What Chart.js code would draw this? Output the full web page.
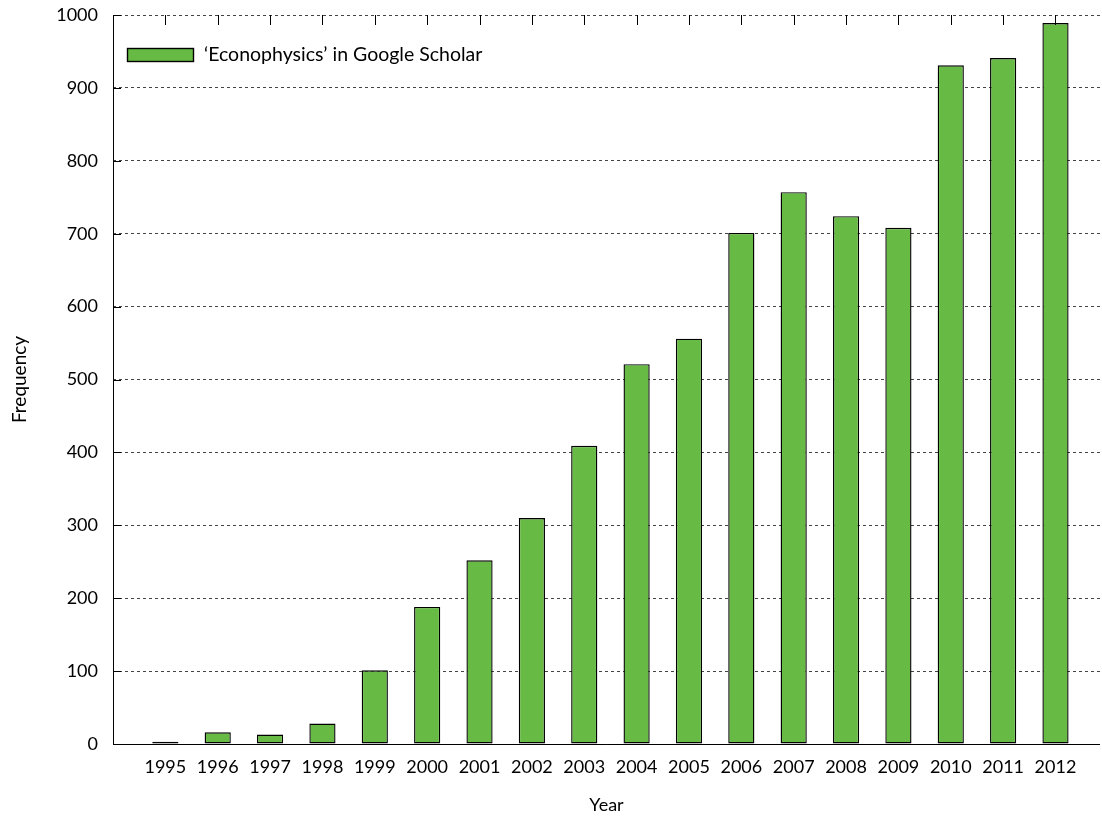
<!DOCTYPE html>
<html>
<head>
<meta charset="utf-8">
<script src="https://cdn.jsdelivr.net/npm/chart.js@4"></script>
<style>
  html, body { margin: 0; padding: 0; background: #fff; }
  #wrap { width: 1102px; height: 816px; }
</style>
</head>
<body>
<div id="wrap"><canvas id="freqChart" width="1102" height="816"></canvas></div>
<script>
// Data
const years = [1995, 1996, 1997, 1998, 1999, 2000, 2001, 2002, 2003, 2004,
               2005, 2006, 2007, 2008, 2009, 2010, 2011, 2012];
const counts = [3, 16, 13, 28, 101, 188, 252, 310, 409, 521,
                556, 701, 757, 724, 708, 931, 941, 989];
const yTicks = [0, 100, 200, 300, 400, 500, 600, 700, 800, 900, 1000];
const seriesName = "\u2018Econophysics\u2019 in Google Scholar";

const barGreen = '#67bb44';
const fontFamily = 'Lato, "Open Sans", sans-serif';

/* inward tick marks on top and left, solid axes, plus the legend inside the plot */
const extras = {
  id: 'extras',
  afterDraw(chart) {
    const c = chart.ctx;
    const area = chart.chartArea;
    const xs = chart.scales.x;
    const ys = chart.scales.y;
    c.save();
    c.setLineDash([]);
    c.strokeStyle = '#000';
    c.lineWidth = 1;
    c.beginPath();
    years.forEach(function (yr) {
      const px = Math.round(xs.getPixelForValue(yr)) + 0.5;
      c.moveTo(px, area.top);
      c.lineTo(px, area.top + 10);
    });
    yTicks.forEach(function (v) {
      const py = Math.round(ys.getPixelForValue(v)) + 0.5;
      c.moveTo(area.left, py);
      c.lineTo(area.left + 8, py);
    });
    // left and bottom axis lines
    c.moveTo(Math.round(area.left) + 0.5, area.top);
    c.lineTo(Math.round(area.left) + 0.5, area.bottom);
    c.moveTo(area.left, Math.round(area.bottom) + 0.5);
    c.lineTo(area.right, Math.round(area.bottom) + 0.5);
    c.stroke();

    // legend
    const lx = area.left + 14;
    const ly = area.top + 33;
    c.fillStyle = barGreen;
    c.fillRect(lx, ly, 66, 13);
    c.lineWidth = 1.4;
    c.strokeRect(lx + 0.5, ly + 0.5, 66, 13);
    c.fillStyle = '#000';
    c.font = '19.5px ' + fontFamily;
    c.textBaseline = 'middle';
    c.fillText(seriesName, lx + 77, ly + 7);
    c.restore();
  }
};

const ctx = document.getElementById('freqChart').getContext('2d');
new Chart(ctx, {
  type: 'bar',
  data: {
    datasets: [{
      label: seriesName,
      data: years.map(function (yr, i) { return { x: yr, y: counts[i] }; }),
      backgroundColor: barGreen,
      borderColor: '#000',
      borderWidth: 1.4,
      borderSkipped: false,
      barPercentage: 1,
      categoryPercentage: 0.5
    }]
  },
  options: {
    responsive: false,
    animation: false,
    layout: { padding: { top: 15, right: 2, left: 8, bottom: 0 } },
    scales: {
      x: {
        type: 'linear',
        min: 1994,
        max: 2012.85,
        offset: false,
        afterFit: function (s) { s.height = 72; s.paddingLeft = 0; s.paddingRight = 0; },
        afterBuildTicks: function (s) {
          s.ticks = years.map(function (yr) { return { value: yr }; });
        },
        grid: { display: false, drawTicks: false },
        border: { display: false },
        ticks: {
          autoSkip: false,
          maxRotation: 0,
          padding: 12,
          color: '#000',
          font: { family: fontFamily, size: 18 },
          callback: function (v) { return String(v); }
        },
        title: {
          display: true,
          text: 'Year',
          color: '#000',
          font: { family: fontFamily, size: 18 },
          padding: { top: 14, bottom: 0 }
        }
      },
      y: {
        min: 0,
        max: 1000,
        afterFit: function (s) { s.width = 105; s.paddingTop = 0; s.paddingBottom = 0; },
        afterBuildTicks: function (s) {
          s.ticks = yTicks.map(function (v) { return { value: v }; });
        },
        grid: {
          color: '#444',
          lineWidth: 1,
          drawTicks: false
        },
        border: { display: false, dash: [3, 3] },
        ticks: {
          padding: 15,
          color: '#000',
          font: { family: fontFamily, size: 18 },
          callback: function (v) { return String(v); }
        },
        title: {
          display: true,
          text: 'Frequency',
          color: '#000',
          font: { family: fontFamily, size: 19 },
          padding: { top: 0, bottom: 0 }
        }
      }
    },
    plugins: {
      legend: { display: false },
      tooltip: { enabled: false }
    }
  },
  plugins: [extras]
});
</script>
</body>
</html>
